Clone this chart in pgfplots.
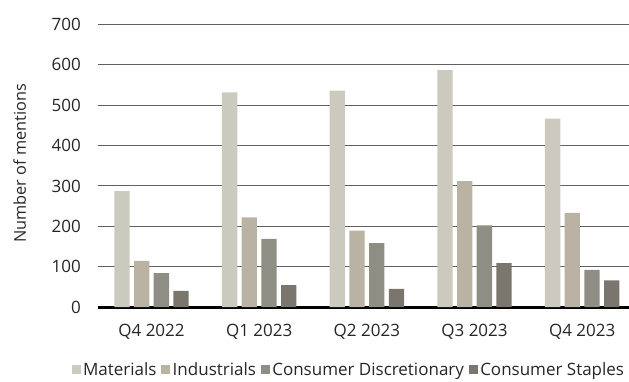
\documentclass[border=0pt]{standalone}
\usepackage{pgfplots}
\pgfplotsset{compat=1.18}
\usepackage{fontspec}
\setmainfont{Open Sans}
\definecolor{cMat}{RGB}{204,202,190}
\definecolor{cInd}{RGB}{186,179,163}
\definecolor{cDis}{RGB}{142,142,132}
\definecolor{cSta}{RGB}{122,118,109}
\begin{document}
\begin{tikzpicture}
\begin{axis}[
  at={(97.7pt,74pt)}, anchor=south west,
  scale only axis, width=538.3pt, height=282.5pt,
  ybar=4.4pt, bar width=15.3pt,
  xmin=-0.5, xmax=4.5, ymin=0, ymax=700,
  xtick={0,1,2,3,4},
  xticklabels={Q4 2022,Q1 2023,Q2 2023,Q3 2023,Q4 2023},
  ytick={0,100,...,700},
  major tick length=0pt,
  axis lines*=left,
  y axis line style={draw=none},
  x axis line style={line width=3pt, black, -},
  ymajorgrids, grid style={black!62, line width=0.9pt},
  /pgf/number format/assume math mode=true,
  every tick label/.append style={font=\fontsize{17}{20}\selectfont, inner sep=0pt, text=black!85},
  xticklabel style={anchor=center, yshift=-24.7pt},
  yticklabel style={anchor=east, xshift=-16.7pt},
  ylabel={Number of mentions},
  ylabel style={at={(axis description cs:-0.145,0.508)}, anchor=center, font=\fontsize{16.3}{19}\selectfont, text=black!85, inner sep=0pt},
  legend columns=4,
  legend style={draw=none, fill=none, at={(axis description cs:-0.0483,-0.2225)}, anchor=west,
    font=\fontsize{17}{20}\selectfont, text=black!85, inner sep=0pt, outer sep=0pt,
    nodes={inner sep=0pt},
    /tikz/every odd column/.append style={column sep=2.3pt},
    /tikz/every even column/.append style={column sep=5pt}},
  legend image code/.code={\fill[#1] (0pt,-4.5pt) rectangle (9pt,4.5pt);},
]
\addplot[fill=cMat, draw=none] coordinates {(0,287) (1,532) (2,536) (3,587) (4,467)};
\addplot[fill=cInd, draw=none] coordinates {(0,114) (1,222) (2,189) (3,312) (4,233)};
\addplot[fill=cDis, draw=none] coordinates {(0,84) (1,169) (2,158) (3,202) (4,92)};
\addplot[fill=cSta, draw=none] coordinates {(0,40) (1,54) (2,45) (3,109) (4,66)};
\legend{Materials,Industrials,Consumer Discretionary,Consumer Staples}
\end{axis}
\pgfresetboundingbox
\path[use as bounding box] (0,0) rectangle (629pt,381pt);
\end{tikzpicture}
\end{document}
